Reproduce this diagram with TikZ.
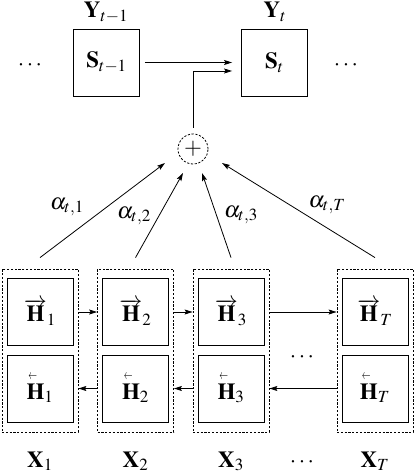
\documentclass[tikz,border=0pt]{standalone}
\usepackage{mathptmx}
\usepackage{graphicx}
\usetikzlibrary{arrows.meta,calc}
\newcommand{\fwH}[1]{$\overrightarrow{\mathbf{H}}_{#1}$}
\newcommand{\bwH}[1]{\rlap{\kern0.08em\raisebox{0.86em}{\scalebox{0.38}[0.6]{$\leftarrow$}}}$\mathbf{H}_{#1}$}
\tikzset{
  box/.style={draw, line width=0.9pt, minimum width=66pt, minimum height=67pt, inner sep=0pt},
  dbox/.style={draw, dash pattern=on 2.2pt off 1.6pt, line width=0.8pt, minimum width=76pt, minimum height=163pt, inner sep=0pt},
  arr/.style={-{Stealth[length=8pt,width=5pt,inset=1.5pt]}, line width=0.8pt},
  lbl/.style={inner sep=0pt},
  sumnode/.style={circle, draw, dash pattern=on 2.2pt off 1.6pt, line width=0.8pt, minimum size=30pt, inner sep=0pt}
}
\begin{document}
\begin{tikzpicture}[x=1pt,y=-1pt,font=\fontsize{23}{27}\selectfont]
\useasboundingbox (0,0) rectangle (415,473);
% top decoder states
\node[box] (St1) at (106.5,62.5) {$\mathbf{S}_{t-1}$};
\node[box] (St) at (274.5,62.5) {$\mathbf{S}_t$};
\node[lbl, anchor=base] (Yt1) at (106,18) {$\mathbf{Y}_{t-1}$};
\node[lbl, anchor=base] (Yt) at (275,18) {$\mathbf{Y}_t$};
\node[lbl] (dl) at (30,65) {$\cdots$};
\node[lbl] (dr) at (346,65) {$\cdots$};
\node[sumnode] (plus) at (193,149) {$+$};
\draw[arr] ($(St1.east)+(5,0)$) -- ($(St.west)+(-9,0)$);
\draw[arr] ($(plus.north)+(0,-6)$) |- ($(St.west)+(-9,8.5)$);
% encoder columns
\foreach \i/\x in {1/40,2/135.5,3/231,T/375} {
  \node[box] (F\i) at (\x,312) {\fwH{\i}};
  \node[box] (B\i) at (\x,388.5) {\bwH{\i}};
  \node[dbox] (D\i) at (\x,350.5) {};
  \node[lbl, anchor=base] (X\i) at (\x,467) {$\mathbf{X}_{\i}$};
}
\node[lbl] (dm) at (302,357) {$\cdots$};
\node[lbl] (db) at (302,462) {$\cdots$};
% forward / backward connections
\draw[arr] (D1.east |- F1) -- (D2.west |- F2);
\draw[arr] (D2.east |- F2) -- (D3.west |- F3);
\draw[arr] (D3.east |- F3) -- (DT.west |- FT);
\draw[arr] (D2.west |- B2) -- (D1.east |- B1);
\draw[arr] (D3.west |- B3) -- (D2.east |- B2);
\draw[arr] (DT.west |- BT) -- (D3.east |- B3);
% attention arrows
\draw[arr] ($(D1.north)+(0,-11)$) -- ($(plus)+(-28,14)$);
\draw[arr] ($(D2.north)+(0,-11)$) -- ($(plus)+(-10,24)$);
\draw[arr] ($(D3.north)+(0,-11)$) -- ($(plus)+(9,24)$);
\draw[arr] ($(DT.north)+(0,-11)$) -- ($(plus)+(29,14)$);
\node[lbl] (a1) at (67,207) {$\alpha_{t,1}$};
\node[lbl] (a2) at (134,216) {$\alpha_{t,2}$};
\node[lbl] (a3) at (241,215) {$\alpha_{t,3}$};
\node[lbl] (aT) at (327,205) {$\alpha_{t,T}$};
\end{tikzpicture}
\end{document}
